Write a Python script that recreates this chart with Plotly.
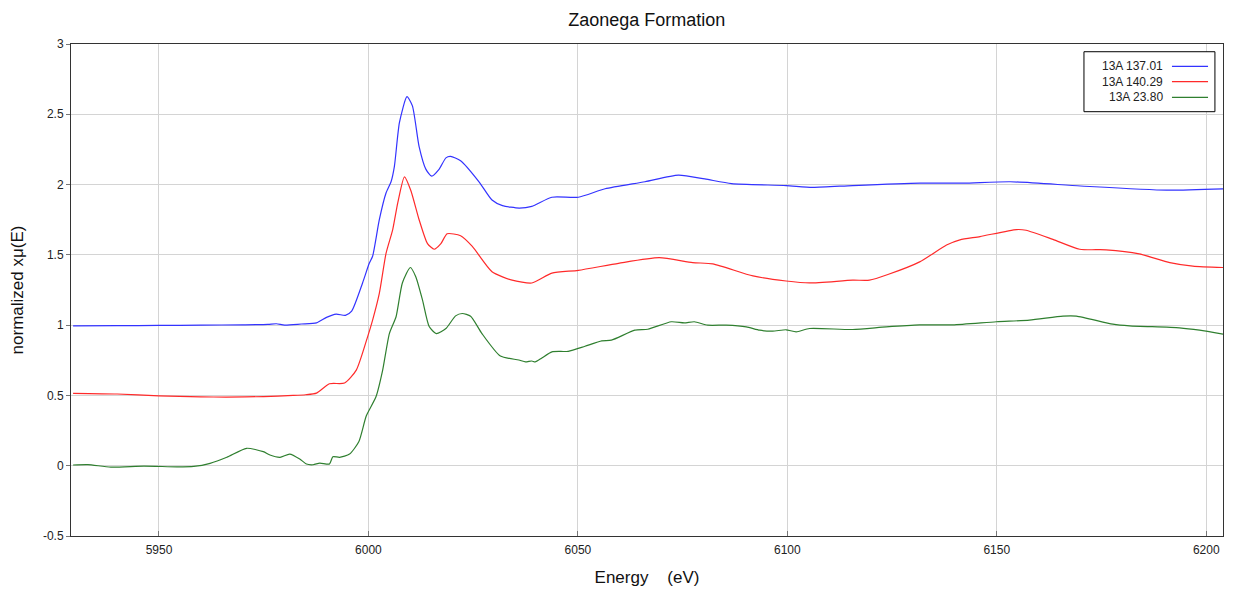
import plotly.graph_objects as go

title_text = "Zaonega Formation"
series_names = ["13A 137.01", "13A 140.29", "13A 23.80"]
series_colors = ["#3333ff", "#ff2a2a", "#2f7f2f"]

blue_e = [5929.5, 5940, 5950, 5960, 5970, 5976, 5978, 5980, 5984, 5987.6, 5990, 5992.3, 5994.5, 5996,
          5998.6, 6000.2, 6001, 6002.6, 6004.2, 6005.4, 6006.2, 6007.4, 6009.2, 6010.5, 6012.1, 6013.7,
          6015.1, 6016.9, 6018.5, 6019.6, 6022, 6026.4, 6029.5, 6032, 6036, 6039, 6043.8, 6050.1, 6056.5,
          6066, 6074, 6080.3, 6086.7, 6099.7, 6106, 6115.6, 6131.7, 6142, 6153.2, 6170, 6190.5, 6204]
blue_v = [0.995, 0.996, 0.998, 1.0, 1.002, 1.005, 1.01, 1.0, 1.008, 1.016, 1.055, 1.078, 1.07, 1.1,
          1.30, 1.44, 1.49, 1.75, 1.94, 2.02, 2.13, 2.44, 2.625, 2.56, 2.27, 2.11,
          2.06, 2.11, 2.19, 2.20, 2.17, 2.02, 1.89, 1.85, 1.833, 1.845, 1.91, 1.91, 1.97,
          2.02, 2.067, 2.04, 2.007, 1.993, 1.98, 1.993, 2.01, 2.01, 2.02, 1.99, 1.96, 1.97]

red_e = [5929.5, 5940, 5950, 5960, 5966, 5975, 5982, 5985, 5987.6, 5990.7, 5994.3, 5997.1, 5999.8, 6001,
         6002.6, 6004.2, 6005.8, 6007, 6008.6, 6010.1, 6012.1, 6014.1, 6015.7, 6017.3, 6018.8, 6022,
         6024.8, 6029.5, 6034.3, 6039, 6043.8, 6050.1, 6059.7, 6069.4, 6077.4, 6082.2, 6091.8, 6099.7,
         6105.3, 6115.6, 6119.6, 6124, 6131.6, 6138, 6141.2, 6146, 6154.7, 6157, 6163.4, 6169.8, 6176.1,
         6184, 6191.3, 6196.8, 6204]
red_v = [0.515, 0.51, 0.497, 0.49, 0.488, 0.492, 0.50, 0.505, 0.516, 0.583, 0.588, 0.68, 0.917, 1.036,
         1.226, 1.51, 1.68, 1.87, 2.055, 1.96, 1.75, 1.58, 1.54, 1.58, 1.65, 1.636,
         1.56, 1.38, 1.32, 1.30, 1.37, 1.39, 1.44, 1.48, 1.445, 1.436, 1.35, 1.314,
         1.30, 1.32, 1.32, 1.36, 1.45, 1.57, 1.607, 1.63, 1.68, 1.675, 1.61, 1.54, 1.536,
         1.507, 1.445, 1.42, 1.41]

green_e = [5929.5, 5933, 5938.5, 5946.4, 5954.3, 5958.3, 5962.2, 5966.2, 5970.9, 5974.9, 5976.5, 5978.9,
           5981.2, 5983.6, 5985.2, 5986.8, 5988.4, 5990.7, 5991.5, 5993.1, 5995.5, 5997.7, 5999.5, 6001.8,
           6003.4, 6005, 6006.6, 6008.1, 6010, 6011.3, 6012.9, 6014.5, 6016.2, 6018.5, 6020.8, 6022.4,
           6024.4, 6027.1, 6031.5, 6035.9, 6037.5, 6039, 6039.8, 6041.4, 6043.8, 6047.7, 6051.7, 6055.7,
           6058, 6063.6, 6066.7, 6072.3, 6075.4, 6077.8, 6081, 6085.4, 6090.2, 6093.4, 6096.5, 6099.7,
           6102.1, 6105.3, 6115.6, 6123.6, 6131.6, 6139.5, 6149.9, 6157.8, 6165.8, 6169, 6177.7, 6181.7,
           6193.6, 6198.4, 6204]
green_v = [0.005, 0.008, -0.01, -0.003, -0.008, -0.005, 0.017, 0.06, 0.124, 0.10, 0.076, 0.06,
           0.083, 0.048, 0.012, 0.007, 0.019, 0.012, 0.064, 0.06, 0.083, 0.17, 0.355, 0.49,
           0.68, 0.94, 1.06, 1.30, 1.41, 1.345, 1.18, 0.99, 0.94, 0.976, 1.066, 1.083,
           1.064, 0.94, 0.78, 0.752, 0.738, 0.745, 0.738, 0.766, 0.81, 0.814, 0.85, 0.888,
           0.893, 0.964, 0.971, 1.024, 1.016, 1.024, 1.0, 1.0, 0.988, 0.964, 0.957, 0.967,
           0.952, 0.976, 0.969, 0.988, 1.002, 1.002, 1.024, 1.036, 1.064, 1.064, 1.007, 0.995,
           0.981, 0.964, 0.936]

x_ticks = [5950, 6000, 6050, 6100, 6150, 6200]
y_ticks = [-0.5, 0, 0.5, 1, 1.5, 2, 2.5, 3]
y_ticktext = ["-0.5", "0", "0.5", "1", "1.5", "2", "2.5", "3"]

FONT = "Liberation Sans, Arial, sans-serif"

fig = go.Figure()
for name, color, xs, ys in zip(series_names, series_colors,
                               [blue_e, red_e, green_e], [blue_v, red_v, green_v]):
    fig.add_trace(go.Scatter(x=xs, y=ys, mode="lines", name=name,
                             line=dict(color=color, width=1.2, shape="spline", smoothing=0.6),
                             showlegend=False))

# custom legend (text left, line sample right)
fig.add_shape(type="rect", xref="paper", yref="paper", x0=0.8793, x1=0.993, y0=0.8624, y1=0.9843,
              line=dict(color="black", width=1), fillcolor="white", layer="above")
row_y = [0.9545, 0.9234, 0.8915]
for name, color, ry in zip(series_names, series_colors, row_y):
    fig.add_annotation(xref="paper", yref="paper", x=0.9497, y=ry, text=name, showarrow=False,
                       xanchor="right", yanchor="middle", font=dict(family=FONT, size=12, color="#222"))
    fig.add_shape(type="line", xref="paper", yref="paper", x0=0.9557, x1=0.987, y0=ry, y1=ry,
                  line=dict(color=color, width=1.2), layer="above")

fig.update_layout(
    width=1233, height=593,
    margin=dict(l=71, r=10, t=44, b=57),
    paper_bgcolor="white", plot_bgcolor="white",
    font=dict(family=FONT, size=12, color="#222"),
    title=dict(text=title_text, x=0.5245, xanchor="center", y=0.966, yanchor="middle",
               font=dict(family=FONT, size=18, color="#111")),
)
fig.update_xaxes(
    range=[5929, 6204], tickvals=x_ticks, ticktext=[str(t) for t in x_ticks],
    showgrid=True, gridcolor="#d4d4d4", gridwidth=1, zeroline=False,
    showline=True, linecolor="#333", linewidth=1, mirror=True,
    ticks="inside", ticklen=5, tickcolor="#777", ticklabelstandoff=3,
    tickfont=dict(family=FONT, size=12, color="#222"),
    title=dict(text="Energy\u00a0\u00a0\u00a0\u00a0(eV)", font=dict(family=FONT, size=17, color="#111"), standoff=14),
)
fig.update_yaxes(
    range=[-0.5, 3], tickvals=y_ticks, ticktext=y_ticktext,
    showgrid=True, gridcolor="#d4d4d4", gridwidth=1, zeroline=False,
    showline=True, linecolor="#333", linewidth=1, mirror=True,
    ticks="outside", ticklen=4, tickcolor="#777",
    tickfont=dict(family=FONT, size=12, color="#222"),
    title=dict(text="normalized x\u03bc(E)", font=dict(family=FONT, size=17, color="#111"), standoff=14),
)

fig.write_html("out.html")
